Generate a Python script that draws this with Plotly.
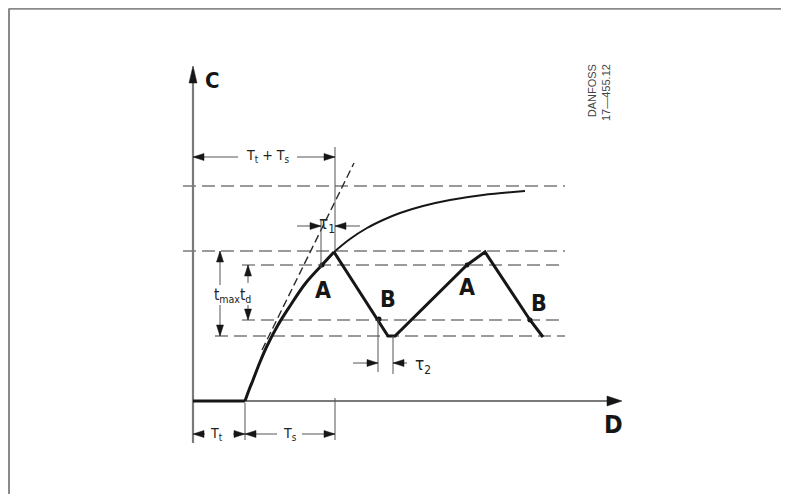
import plotly.graph_objects as go

# ---- diagram data (units: diagram units, origin at the C/D axis crossing) ----
T_t = 52            # dead time
T_s = 90            # time to first switch-off
C_MAX = 215         # asymptote of the uncontrolled response
C_TOP = 150         # t_max upper level
C_A = 136           # switch level A
C_B = 81            # switch level B
C_LOW = 65          # t_max lower level

# free response curve
curve_t = [52, 56, 60, 67, 74, 85, 97, 112, 129, 141, 157, 174, 190, 207, 230, 257, 290, 332]
curve_c = [0, 11, 21, 39, 55, 76, 95, 117, 136, 149, 162, 173, 181, 188, 195, 201, 206, 210]

# controlled (saw-tooth) response after first peak
saw_t = [141, 195, 202, 274, 292, 337, 350]
saw_c = [149, 65, 65, 136, 149, 81, 64]

# switching points
pts_t = [129, 274, 186, 337]
pts_c = [136, 136, 82, 81]
pts_lbl = ["A", "A", "B", "B"]
lbl_t = [130, 274, 195, 346]
lbl_c = [111, 114, 102, 98]

# tangent at start
tan_t = [69, 161]
tan_c = [51, 238]

# dashed levels: (level, start, end)
levels = [C_MAX, C_TOP, C_A, C_B, C_LOW]
lvl_start = [-10, -10, 49, 49, 22]
lvl_end = [372, 372, 372, 372, 372]

# page has an 8px body margin -> figure is 773x486 (no overflow), ranges chosen accordingly
X_RANGE = [-185, 588]
Y_RANGE = [-93, 393]

INK = "#161616"
GREY = "#555555"
FONT = "Liberation Sans Narrow, DejaVu Sans Condensed, Arial Narrow, Arial, sans-serif"

fig = go.Figure()


def line(xs, ys, color=GREY, width=1.0, dash=None, shape="linear"):
    fig.add_trace(go.Scatter(x=xs, y=ys, mode="lines", hoverinfo="skip",
                             line=dict(color=color, width=width, dash=dash, shape=shape)))


def heads(specs, L=11, W=3.5, color=INK):
    xs, ys = [], []
    for (x, y, d) in specs:
        dx, dy = {"l": (-1, 0), "r": (1, 0), "u": (0, 1), "d": (0, -1)}[d]
        bx, by = x - dx * L, y - dy * L
        px, py = -dy * W, dx * W
        xs += [x, bx + px, bx - px, x, None]
        ys += [y, by + py, by - py, y, None]
    fig.add_trace(go.Scatter(x=xs, y=ys, mode="lines", fill="toself", fillcolor=color,
                             line=dict(color=color, width=0.5), hoverinfo="skip"))


# frame: only top and left edges are inside the page (paper coordinates)
fig.add_shape(type="line", xref="paper", yref="paper", x0=0.001, x1=1, y0=0.999, y1=0.999,
              line=dict(color="#8a8a8a", width=2.5))
fig.add_shape(type="line", xref="paper", yref="paper", x0=0.001, x1=0.001, y0=0, y1=0.999,
              line=dict(color="#8a8a8a", width=2.5))

# dashed levels
for lv, s, e in zip(levels, lvl_start, lvl_end):
    line([s, e], [lv, lv], color="#7a7a7a", width=1.4, dash="13px,6px")

# tangent
line(tan_t, tan_c, color="#2a2a2a", width=1.4, dash="8px,4px")

# axes
line([0, 0], [-42, 322], color="#7a7a7a", width=2.2)
line([0, 418], [0, 0], color="#7a7a7a", width=2.2)
heads([(0, 335, "u")], L=17, W=4, color=INK)
heads([(429, 0, "r")], L=15, W=5, color=INK)

# free response: thin after the peak, thick up to the peak
k = curve_t.index(141)
line(curve_t[k:], curve_c[k:], color=INK, width=2.0, shape="spline")
line(curve_t[:k + 1], curve_c[:k + 1], color=INK, width=3.0, shape="spline")
line([0, T_t], [0, 0], color=INK, width=3.0)
line(saw_t, saw_c, color=INK, width=3.0)

fig.add_trace(go.Scatter(x=pts_t, y=pts_c, mode="markers", hoverinfo="skip",
                         marker=dict(color=INK, size=5)))

# ---- dimension lines ----
TT = T_t + T_s
Y_TOP_DIM = 244
Y_BOT_DIM = -33
line([0, 45], [Y_TOP_DIM, Y_TOP_DIM])
line([104, TT], [Y_TOP_DIM, Y_TOP_DIM])
line([TT, TT], [C_TOP, 254])
line([TT, TT], [3, -39])
line([T_t, T_t], [-2, -39])
line([0, 12], [Y_BOT_DIM, Y_BOT_DIM])
line([40, T_t], [Y_BOT_DIM, Y_BOT_DIM])
line([T_t, 84], [Y_BOT_DIM, Y_BOT_DIM])
line([109, TT], [Y_BOT_DIM, Y_BOT_DIM])
# tau1
line([128, 128], [133, 181])
line([104, 128], [175, 175])
line([TT, 167], [175, 175])
# tau2
line([185, 185], [82, 29])
line([200, 200], [C_LOW, 27])
line([160, 185], [38, 38])
line([200, 214], [38, 38])
# t_max, t_d
line([27, 27], [116, C_TOP])
line([27, 27], [C_LOW, 96])
line([55, 55], [118, C_A])
line([55, 55], [C_B, 96])

heads([(0, Y_TOP_DIM, "l"), (TT, Y_TOP_DIM, "r"),
       (0, Y_BOT_DIM, "l"), (T_t, Y_BOT_DIM, "r"), (T_t, Y_BOT_DIM, "l"), (TT, Y_BOT_DIM, "r"),
       (128, 175, "r"), (TT, 175, "l"),
       (185, 38, "r"), (200, 38, "l"),
       (27, C_TOP, "u"), (27, C_LOW, "d"),
       (55, C_A, "u"), (55, C_B, "d")])


# ---- text ----
def txt(x, y, s, size, bold=False, color=INK, **kw):
    fig.add_annotation(x=x, y=y, text=(f"<b>{s}</b>" if bold else s), showarrow=False,
                       font=dict(family=FONT, size=size, color=color), **kw)


txt(19, 321, "C", 22, bold=True)
txt(420, -23, "D", 25, bold=True)
for t, c, s in zip(lbl_t, lbl_c, pts_lbl):
    txt(t, c, s, 23, bold=True)
txt(74, 245, "T<sub>t</sub> + T<sub>s</sub>", 14, color="#222222")
txt(134, 177, "τ<sub>1</sub>", 17, color="#222222")
txt(230, 36, "τ<sub>2</sub>", 17, color="#222222")
txt(39, 106, "t<sub>max</sub>t<sub>d</sub>", 15, color="#222222")
txt(23, Y_BOT_DIM, "T<sub>t</sub>", 14, color="#222222")
txt(97, Y_BOT_DIM, "T<sub>s</sub>", 14, color="#222222")
fig.add_annotation(x=406, y=308, text="DANFOSS<br>17—455.12", showarrow=False, textangle=-90,
                   align="right", font=dict(family="Liberation Sans, Arial, sans-serif", size=11, color="#444444"))

fig.update_layout(
    width=773, height=486, margin=dict(l=0, r=0, t=0, b=0),
    paper_bgcolor="white", plot_bgcolor="white", showlegend=False,
    xaxis=dict(range=X_RANGE, visible=False, fixedrange=True),
    yaxis=dict(range=Y_RANGE, visible=False, fixedrange=True),
)
fig.write_html("out.html")
